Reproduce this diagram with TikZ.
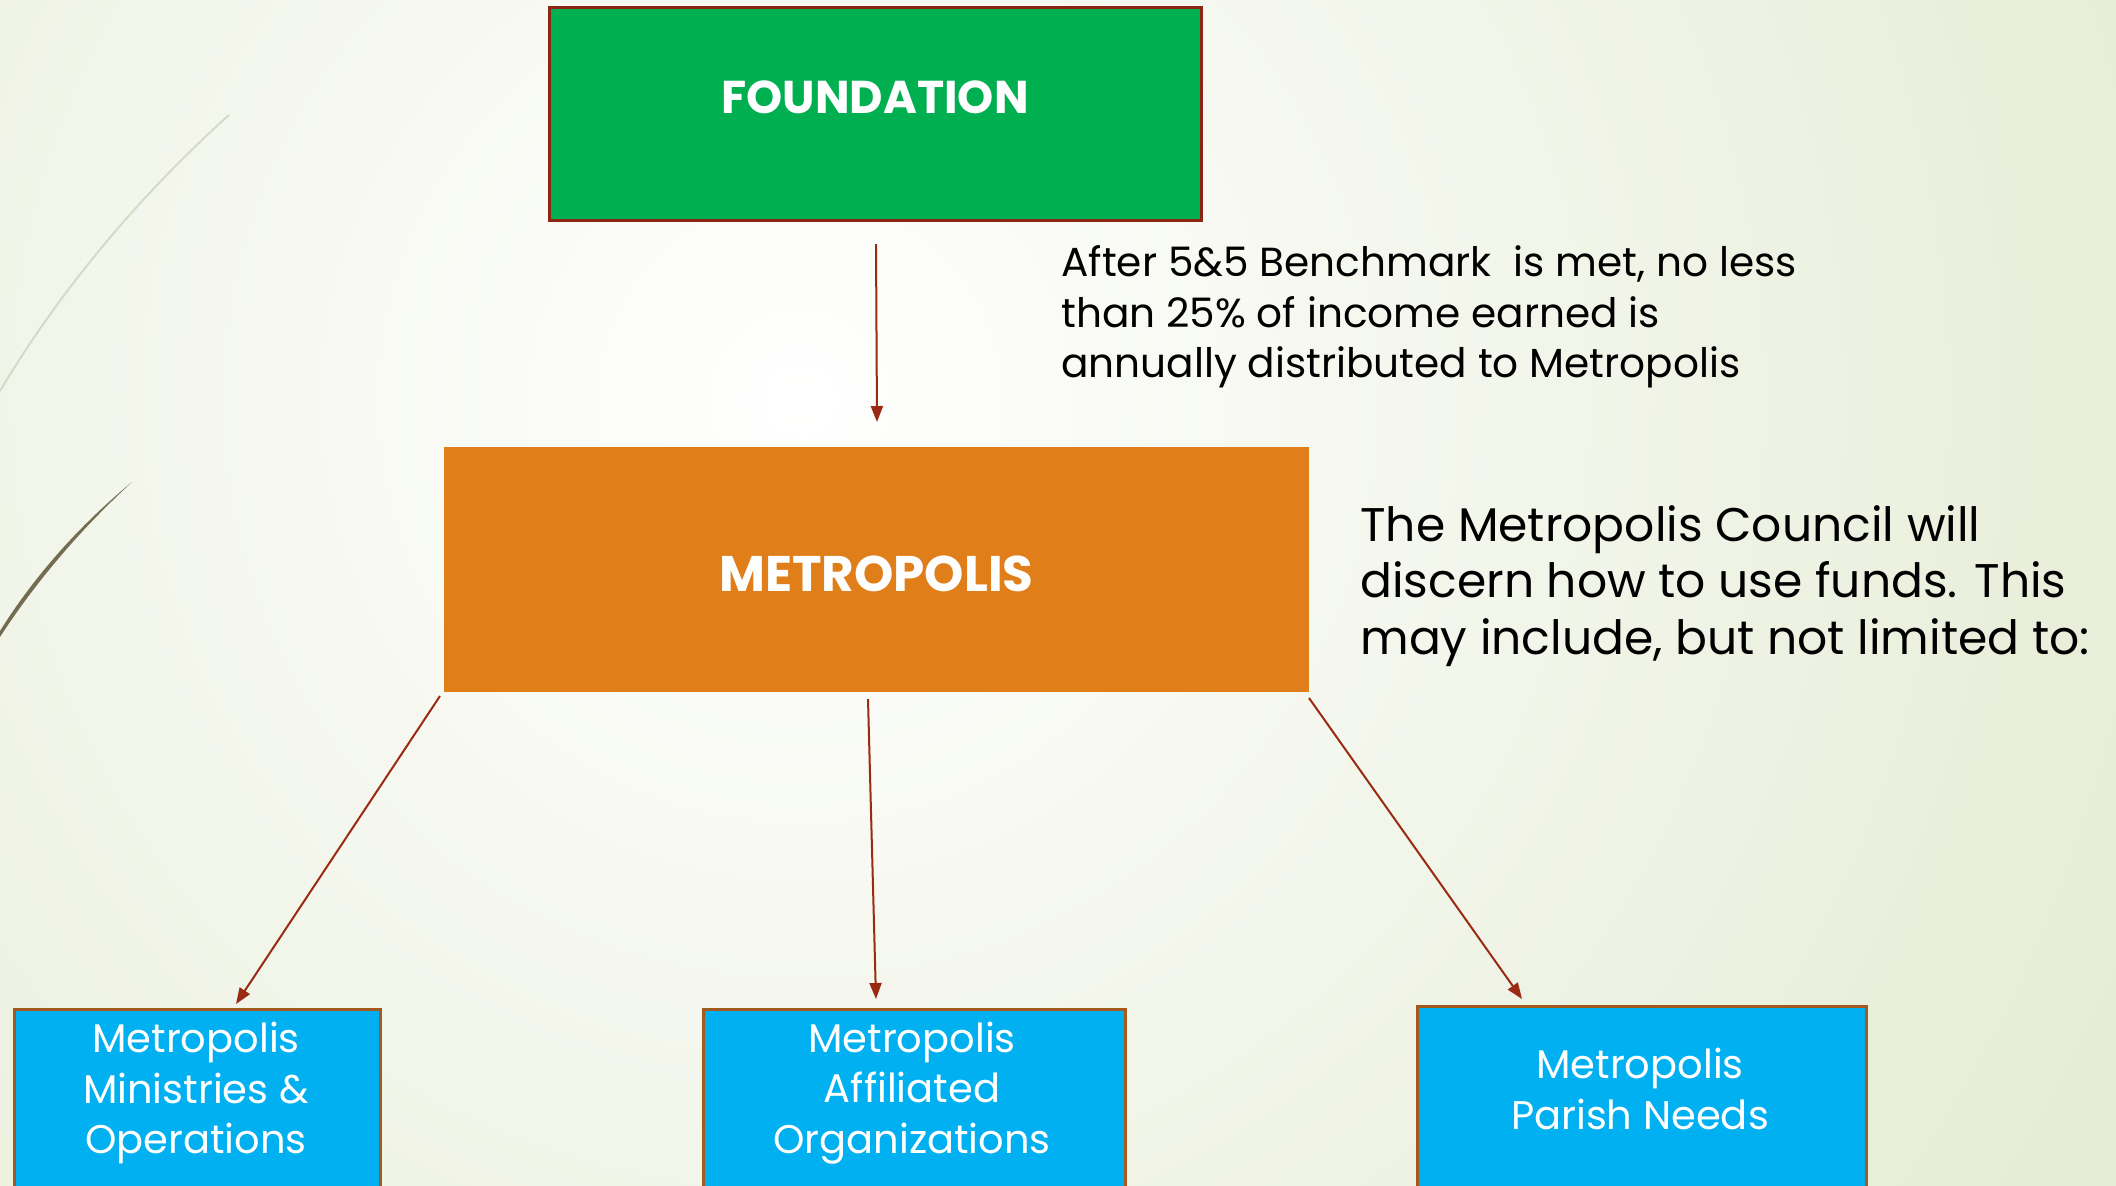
\documentclass[tikz,border=0pt]{standalone}
\usepackage{fontspec}
\setmainfont{Poppins}
\usetikzlibrary{arrows.meta}
\definecolor{fgreen}{HTML}{00AF50}
\definecolor{fborder}{HTML}{8B2614}
\definecolor{morange}{HTML}{E07F1A}
\definecolor{bblue}{HTML}{00B0F0}
\definecolor{bbrown}{HTML}{A35A1C}
\definecolor{darrow}{HTML}{9A2A12}
\definecolor{bgout}{HTML}{E2E9CF}
\definecolor{deco1}{HTML}{D6DAC8}
\definecolor{deco2}{HTML}{746C50}
\tikzset{
  arr/.style={draw=darrow, line width=1pt, -{Triangle[length=8pt,width=6pt]}},
  bluebox/.style={rectangle, fill=bblue, draw=bbrown, line width=1.5pt, anchor=north west, inner sep=0pt},
  bluetext/.style={text=white, align=center, font=\fontsize{20}{25.3}\selectfont},
  note/.style={text=black, align=left, anchor=west, inner sep=0pt}
}
\begin{document}
\begin{tikzpicture}[x=0.5pt,y=-0.5pt]
\useasboundingbox (0,0) rectangle (2116,1185);
\clip (0,0) rectangle (2116,1185);
% background
\fill[inner color=white, outer color=bgout] (-900,-1300) rectangle (2500,2100);
% decorative curves
\draw[deco1, line width=1pt] (229,115) .. controls (140,195) and (60,290) .. (0,391);
\fill[deco2] (132,482) .. controls (80,525) and (35,575) .. (0,631) -- (0,637) .. controls (37,580) and (82,528) .. (132,482) -- cycle;
% boxes
\node[rectangle, fill=fgreen, draw=fborder, line width=1.5pt, minimum width=326pt, minimum height=106.5pt, inner sep=0pt] (found) at (875,113.5) {};
\node[text=white, font=\bfseries\fontsize{23}{28}\selectfont] (foundlabel) at (875,97) {FOUNDATION};
\node[rectangle, fill=morange, minimum width=432.5pt, minimum height=122.5pt, inner sep=0pt] (metro) at (876.5,569.5) {};
\node[text=white, font=\bfseries\fontsize{25}{30}\selectfont] (metrolabel) at (876.5,574) {METROPOLIS};
\node[bluebox, minimum width=183pt, minimum height=120pt] (b1) at (13,1008) {};
\node[bluebox, minimum width=211pt, minimum height=120pt] (b2) at (702,1008) {};
\node[bluebox, minimum width=224.5pt, minimum height=120pt] (b3) at (1416,1005) {};
\node[bluetext] (t1) at (196,1093) {Metropolis\\Ministries \&\\Operations};
\node[bluetext] (t2) at (912,1093) {Metropolis\\Affiliated\\Organizations};
\node[bluetext] (t3) at (1640,1089) {Metropolis\\Parish Needs};
% notes
\node[note, font=\fontsize{20.3}{25.3}\selectfont] (n1) at (1061,317) {After 5\&5 Benchmark\ \ is met, no less\\than 25\% of income earned is\\annually distributed to Metropolis};
\node[note, font=\fontsize{23.6}{28.3}\selectfont] (n2) at (1360,586) {The Metropolis Council will\\discern how to use funds. This\\may include, but not limited to:};
% arrow end points
\coordinate (a0s) at (876,244);
\coordinate (a0e) at (877,422);
\coordinate (a1s) at (440,696);
\coordinate (a1e) at (236,1004);
\coordinate (a2s) at (868,699);
\coordinate (a2e) at (876,999);
\coordinate (a3s) at (1309,698);
\coordinate (a3e) at (1522,999);
\draw[arr] (a0s) -- (a0e);
\draw[arr] (a1s) -- (a1e);
\draw[arr] (a2s) -- (a2e);
\draw[arr] (a3s) -- (a3e);
\end{tikzpicture}
\end{document}
